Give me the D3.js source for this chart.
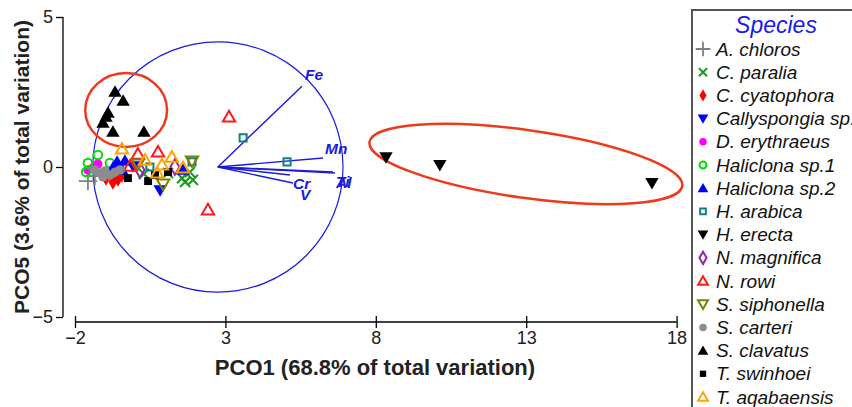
<!DOCTYPE html>
<html><head><meta charset="utf-8">
<script src="https://cdn.jsdelivr.net/npm/d3@7"></script>
<style>body{margin:0;background:#fff;} svg{display:block;}</style>
</head><body>
<svg id="c" width="852" height="407"></svg>
<script>
// ---- Data ----
const speciesNames = ["A. chloros","C. paralia","C. cyatophora","Callyspongia sp.","D. erythraeus","Haliclona sp.1","Haliclona sp.2","H. arabica","H. erecta","N. magnifica","N. rowi","S. siphonella","S. carteri","S. clavatus","T. swinhoei","T. aqabaensis"];
const speciesColors = ["#808080","#1a9a1a","#ff0000","#0000ff","#ff00ff","#00dd00","#0000ff","#108080","#000000","#9922aa","#ff1a1a","#808000","#8c8c8c","#000000","#000000","#ffa500"];
const speciesShapes = ["plus","times","diamond","down","circle","circle","up","square","down","diamond","up","down","circle","up","square","up"];
const speciesFilled = [false,false,true,true,true,false,true,false,true,false,false,false,true,true,true,false];

const pointSpecies = [
  "A. chloros","A. chloros",
  "C. paralia","C. paralia","C. paralia","C. paralia","C. paralia","C. paralia",
  "C. cyatophora","C. cyatophora","C. cyatophora","C. cyatophora",
  "Callyspongia sp.","Callyspongia sp.",
  "D. erythraeus","D. erythraeus","D. erythraeus",
  "Haliclona sp.1","Haliclona sp.1","Haliclona sp.1","Haliclona sp.1",
  "Haliclona sp.2","Haliclona sp.2","Haliclona sp.2","Haliclona sp.2","Haliclona sp.2",
  "H. arabica","H. arabica","H. arabica","H. arabica",
  "H. erecta","H. erecta","H. erecta",
  "N. magnifica","N. magnifica",
  "N. rowi","N. rowi","N. rowi","N. rowi","N. rowi",
  "S. siphonella","S. siphonella","S. siphonella",
  "S. carteri","S. carteri","S. carteri","S. carteri","S. carteri","S. carteri","S. carteri",
  "S. clavatus","S. clavatus","S. clavatus","S. clavatus","S. clavatus","S. clavatus","S. clavatus",
  "T. swinhoei","T. swinhoei","T. swinhoei","T. swinhoei",
  "T. aqabaensis","T. aqabaensis","T. aqabaensis","T. aqabaensis","T. aqabaensis","T. aqabaensis"
];
const pointX = [
  -1.57,-1.34,
  1.09,1.56,1.82,1.66,1.92,0.29,
  -0.97,-0.74,-0.57,-0.44,
  0.83,-0.07,
  -1.40,-1.24,-1.57,
  -1.24,-1.63,-0.84,-1.57,
  -0.60,-0.34,-0.44,1.59,-0.74,
  3.59,5.05,0.49,1.89,
  8.34,10.13,17.18,
  0.16,1.32,
  3.12,2.42,0.09,0.76,-0.17,
  0.93,1.89,0.09,
  -1.17,-1.00,-0.84,-0.67,-1.34,-0.50,-1.07,
  -0.67,-0.40,-0.90,-0.97,-1.07,-0.74,0.29,
  0.43,-0.24,1.09,0.66,
  -0.44,1.22,0.89,1.59,0.73,0.33
];
const pointY = [
  -0.47,-0.30,
  -0.20,-0.37,-0.17,-0.50,-0.43,-0.23,
  -0.37,-0.50,-0.40,-0.27,
  -0.77,0.03,
  -0.03,0.10,-0.10,
  0.40,-0.17,0.13,0.13,
  0.17,0.20,-0.10,-0.10,-0.03,
  0.97,0.17,0.00,0.17,
  0.33,0.07,-0.53,
  -0.10,0.00,
  1.67,-1.43,0.43,0.50,0.03,
  -0.57,0.20,0.10,
  -0.20,-0.13,-0.27,-0.17,-0.10,-0.10,-0.33,
  2.50,2.20,1.80,1.67,1.47,1.17,1.17,
  -0.47,-0.37,-0.17,-0.27,
  0.60,0.33,0.07,-0.03,-0.20,0.23
];

const xTicks = [-2,3,8,13,18];
const yTicks = [-5,0,5];
const xTitle = "PCO1 (68.8% of total variation)";
const yTitle = "PCO5 (3.6% of total variation)";
const legendTitle = "Species";

// vector overlay (correlations, unit circle)
const vectorNames = ["Fe","Mn","Al","Ti","Cr","V"];
const vectorX = [0.672,0.84,0.936,0.92,0.576,0.60];
const vectorY = [0.648,0.072,-0.048,-0.04,-0.064,-0.128];
const circleCenter = [2.75, 0];
const circleRadius = 4.16;

// ---- Drawing ----
const FONT = "Arial, 'Liberation Sans', sans-serif";
const svg = d3.select("#c");
const x = d3.scaleLinear().domain([-2,18]).range([75,676.6]);
const y = d3.scaleLinear().domain([-5,5]).range([317,17]);

// Y axis
const yAxisG = svg.append("g").attr("transform","translate(63,0)")
  .call(d3.axisLeft(y).tickValues(yTicks).tickSize(7).tickPadding(3).tickFormat(d3.format("d")));
yAxisG.select(".domain").attr("d","M0,"+y(5)+"V"+y(-5)).attr("stroke","#000").attr("stroke-width",1.3);
yAxisG.selectAll(".tick line").attr("stroke","#000").attr("stroke-width",1.3);
yAxisG.selectAll(".tick text").attr("font-family",FONT).attr("font-size",18).attr("fill","#222");

// X axis
const xAxisG = svg.append("g").attr("transform","translate(0,322)")
  .call(d3.axisBottom(x).tickValues(xTicks).tickSize(0).tickPadding(9).tickFormat(d3.format("d")));
xAxisG.select(".domain").attr("d","M"+x(-2)+",0H"+x(18)).attr("stroke","#000").attr("stroke-width",1.3);
xAxisG.selectAll(".tick").append("line").attr("y1",-6).attr("y2",6).attr("stroke","#000").attr("stroke-width",1.3);
xAxisG.selectAll(".tick text").attr("font-family",FONT).attr("font-size",18).attr("fill","#222");

// Axis titles
svg.append("text").attr("x",375).attr("y",375).attr("text-anchor","middle")
  .attr("font-family",FONT).attr("font-weight","bold").attr("font-size",22).attr("fill","#222").text(xTitle);
svg.append("text").attr("transform","translate(29,167) rotate(-90)").attr("text-anchor","middle")
  .attr("font-family",FONT).attr("font-weight","bold").attr("font-size",21).attr("fill","#222").text(yTitle);

// Vector circle
const cxp = x(circleCenter[0]), cyp = y(circleCenter[1]);
const rp = x(circleCenter[0]+circleRadius) - x(circleCenter[0]);
svg.append("circle").attr("cx",cxp).attr("cy",cyp).attr("r",rp)
  .attr("fill","none").attr("stroke","#1a1adf").attr("stroke-width",1.2);

// Red ellipses (annotations, data coordinates)
function ellipse(cxD, cyD, rxD, ryD, rot){
  svg.append("ellipse").attr("cx",x(cxD)).attr("cy",y(cyD))
    .attr("rx",x(cxD+rxD)-x(cxD)).attr("ry",y(cyD)-y(cyD+ryD))
    .attr("transform","rotate("+rot+","+x(cxD)+","+y(cyD)+")")
    .attr("fill","none").attr("stroke","#ee3a1c").attr("stroke-width",2.5);
}
ellipse(-0.3, 1.9, 1.36, 1.23, 0);
ellipse(12.99, 0.1, 5.25, 1.13, 8);

// Vectors
const vecG = svg.append("g");
vectorNames.forEach((n,i)=>{
  const ex = x(circleCenter[0] + vectorX[i]*circleRadius);
  const ey = y(circleCenter[1] + vectorY[i]*circleRadius);
  vecG.append("line").attr("x1",cxp).attr("y1",cyp).attr("x2",ex).attr("y2",ey)
    .attr("stroke","#1a1adf").attr("stroke-width",1.4);
});
const labelOffsets = {Fe:[3,-6],Mn:[2,-4],Al:[1,15],Ti:[3,15],Cr:[3,14],V:[7,17]};
vectorNames.forEach((n,i)=>{
  const ex = x(circleCenter[0] + vectorX[i]*circleRadius);
  const ey = y(circleCenter[1] + vectorY[i]*circleRadius);
  const o = labelOffsets[n];
  vecG.append("text").attr("x",ex+o[0]).attr("y",ey+o[1])
    .attr("font-family",FONT).attr("font-weight","bold").attr("font-style","italic")
    .attr("font-size",15.5).attr("fill","#1a1adf").text(n);
});

// Symbols
function symPath(shape, size){
  const map = {plus:d3.symbolPlus, times:d3.symbolTimes, diamond:d3.symbolDiamond, down:d3.symbolTriangle,
               up:d3.symbolTriangle, circle:d3.symbolCircle, square:d3.symbolSquare};
  return d3.symbol().type(map[shape]).size(size)();
}
function drawSym(g, si, px, py, scale){
  const shape = speciesShapes[si], col = speciesColors[si], filled = speciesFilled[si];
  let size = {plus:90, times:55, diamond:55, down:62, up:62, circle:55, square:50}[shape] * scale;
  if(!filled && (shape==="up"||shape==="down")) size *= 0.85;
  if(!filled && shape==="square") size *= 0.8;
  if(!filled && shape==="circle") size *= 0.85;
  const rot = shape==="down" ? 180 : 0;
  const p = g.append("path").attr("d", symPath(shape,size))
    .attr("transform","translate("+px+","+(py + (shape==="up"? 1 : shape==="down" ? -1 : 0))+") rotate("+rot+")");
  if(shape==="plus"){ p.attr("fill","none").attr("stroke",col).attr("stroke-width",1.8); }
  else if(shape==="times"){ p.attr("fill","none").attr("stroke",col).attr("stroke-width",2); }
  else if(filled){ p.attr("fill",col).attr("stroke","none"); }
  else { p.attr("fill","none").attr("stroke",col).attr("stroke-width",2); }
}
const ptsG = svg.append("g");
pointSpecies.forEach((s,i)=>{
  drawSym(ptsG, speciesNames.indexOf(s), x(pointX[i]), y(pointY[i]), 1.25);
});

// Legend
const lg = svg.append("g");
lg.append("rect").attr("x",692).attr("y",10).attr("width",200).attr("height",420)
  .attr("fill","#fff").attr("stroke","#555").attr("stroke-width",2);
lg.append("text").attr("x",776).attr("y",33).attr("text-anchor","middle")
  .attr("font-family",FONT).attr("font-style","italic").attr("font-size",23)
  .attr("fill","#1a1aee").text(legendTitle);
speciesNames.forEach((s,i)=>{
  const ly = 49 + i*23.2;
  drawSym(lg, i, 703, ly, 0.8);
  lg.append("text").attr("x",716).attr("y",ly+6.5)
    .attr("font-family",FONT).attr("font-style","italic").attr("font-size",19)
    .attr("fill","#111").text(s);
});
</script>
</body></html>
